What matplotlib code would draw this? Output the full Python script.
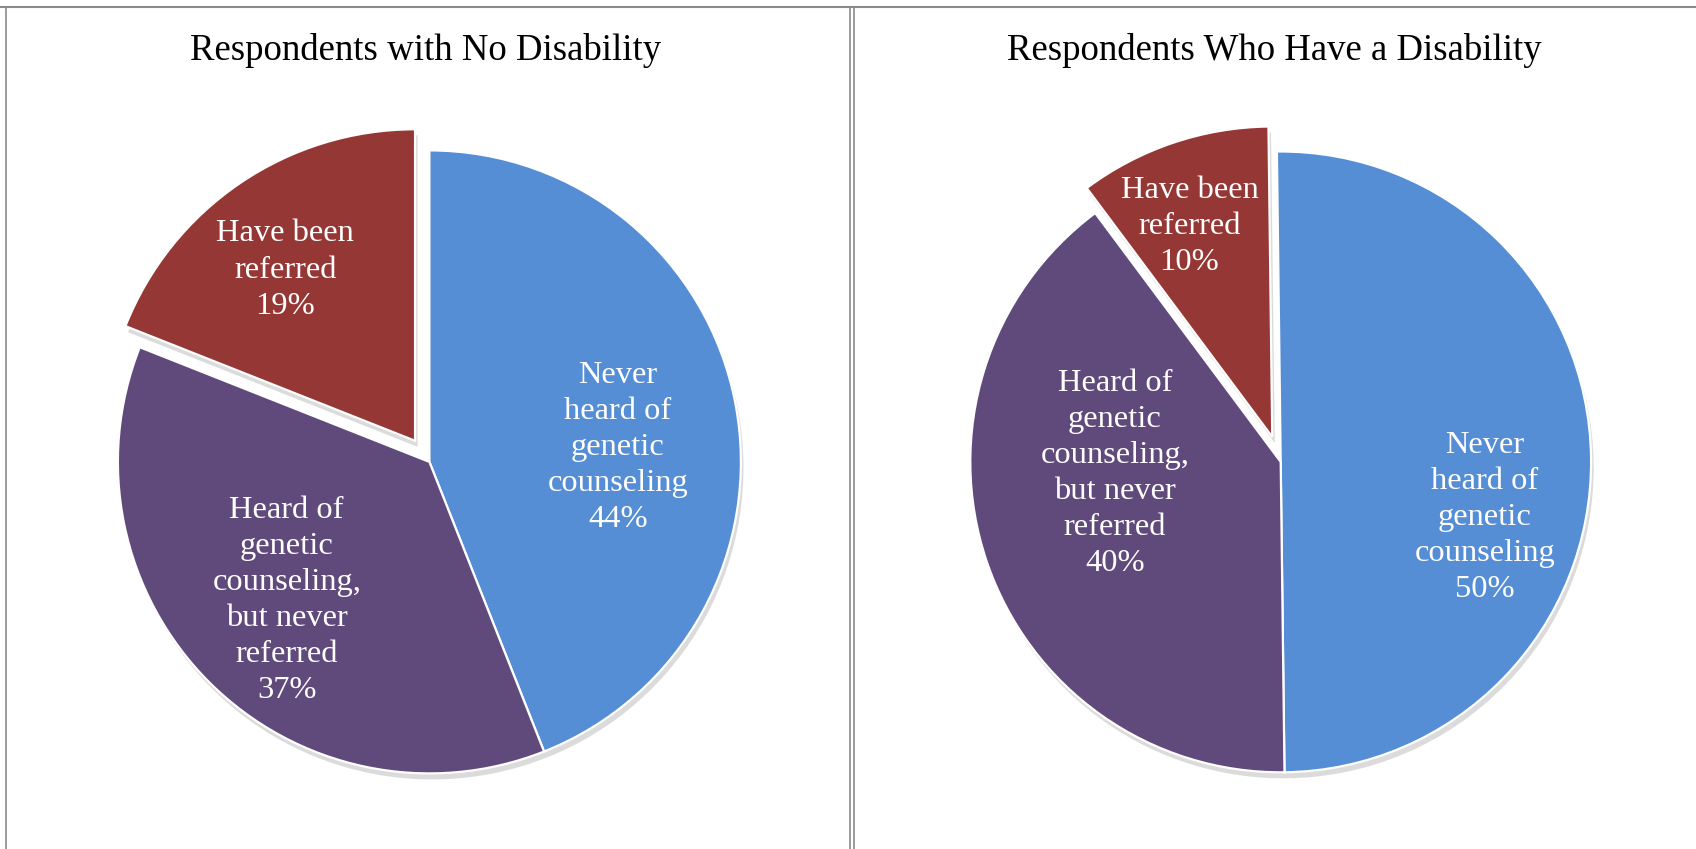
import matplotlib.pyplot as plt
from matplotlib.lines import Line2D

# survey shares (percent)
categories = ['Never\nheard of\ngenetic\ncounseling',
              'Heard of\ngenetic\ncounseling,\nbut never\nreferred',
              'Have been\nreferred']
no_disability = [44, 37, 19]
has_disability = [50, 40, 10]
titles = ['Respondents with No Disability', 'Respondents Who Have a Disability']

colors = ['#558ED5', '#604A7B', '#953735']

W, H = 1696, 849
fig = plt.figure(figsize=(W / 100, H / 100), dpi=100)
fig.patch.set_facecolor('white')

serif = ['Liberation Serif', 'DejaVu Serif']

# panel layout in pixels: pie centre x, centre y (from top), radius
panels = [
    dict(cx=429.4, cy=461.9, r=311.5, start=90.0, explode=0.082, title_x=426,
         label_pos=[(0.605, 0.046), (-0.458, -0.444), (-0.463, 0.616)]),
    dict(cx=1280.7, cy=461.9, r=310.4, start=90.7, explode=0.085, title_x=1274,
         label_pos=[(0.658, -0.179), (-0.534, -0.038), (-0.294, 0.758)]),
]

for vals, title, p in zip([no_disability, has_disability], titles, panels):
    half = 1.2 * p['r']
    ax = fig.add_axes([(p['cx'] - half) / W, (H - p['cy'] - half) / H,
                       2 * half / W, 2 * half / H])
    ax.pie(vals, colors=colors, startangle=p['start'], counterclock=False,
           explode=[0, 0, p['explode']], radius=1,
           wedgeprops=dict(edgecolor='white', linewidth=1.6),
           shadow=dict(ox=0.006, oy=-0.014, facecolor='#9a9a9a',
                       edgecolor='none', alpha=0.35))
    ax.set_xlim(-1.2, 1.2)
    ax.set_ylim(-1.2, 1.2)
    ax.set_aspect('equal')
    ax.axis('off')
    for cat, v, (lx, ly) in zip(categories, vals, p['label_pos']):
        ax.text(lx, ly, f'{cat}\n{v}%', ha='center', va='center', color='white',
                fontsize=23.4, family=serif, linespacing=1.32)
    fig.text(p['title_x'] / W, 1 - 51 / H, title, ha='center', va='center',
             fontsize=26.5, family=serif, color='black')

# panel frame lines
border = '#8a8a8a'
fig.add_artist(Line2D([0, 1], [1 - 6.5 / H, 1 - 6.5 / H], transform=fig.transFigure,
                      color=border, lw=1.5))
for x in (6.0, 850.5, 853.8):
    fig.add_artist(Line2D([x / W, x / W], [0, 1 - 6.5 / H], transform=fig.transFigure,
                          color=border, lw=1.2))

fig.savefig('out.png', dpi=100, facecolor='white')
